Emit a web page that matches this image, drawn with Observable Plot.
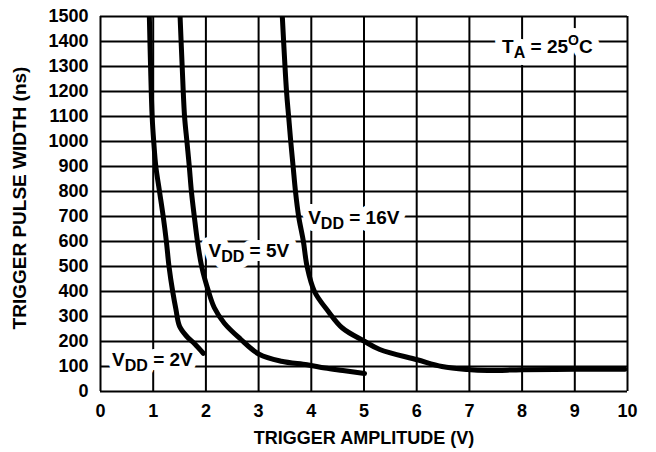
<!DOCTYPE html>
<html>
<head>
<meta charset="utf-8">
<script src="https://cdn.jsdelivr.net/npm/d3@7"></script>
<script src="https://cdn.jsdelivr.net/npm/@observablehq/plot@0.6"></script>
<style>
  html, body { margin: 0; padding: 0; background: #fff; }
  #chart svg { display: block; }
</style>
</head>
<body>
<div id="chart"></div>
<script>
// ---- Data ----
const xTicks = [0, 1, 2, 3, 4, 5, 6, 7, 8, 9, 10];
const yTicks = [0, 100, 200, 300, 400, 500, 600, 700, 800, 900, 1000, 1100, 1200, 1300, 1400, 1500];

const xTitle = "TRIGGER AMPLITUDE (V)";
const yTitle = "TRIGGER PULSE WIDTH (ns)";

// VDD = 2V
const vdd2X = [0.927, 0.95, 0.98, 1.01, 1.05, 1.12, 1.19, 1.25, 1.30, 1.37, 1.43, 1.50, 1.63, 1.79, 1.95];
const vdd2Y = [1500, 1300, 1100, 1000, 900, 800, 700, 600, 500, 400, 330, 261, 222, 190, 153];
// VDD = 5V
const vdd5X = [1.51, 1.55, 1.595, 1.64, 1.685, 1.725, 1.78, 1.84, 1.92, 2.05, 2.16, 2.35, 2.65, 3.01, 3.43, 3.92, 4.26, 4.6, 5.01];
const vdd5Y = [1500, 1300, 1100, 1000, 900, 800, 700, 600, 500, 400, 335, 273, 211, 149, 121, 107, 94, 84, 72];
// VDD = 16V
const vdd16X = [3.45, 3.53, 3.57, 3.61, 3.655, 3.70, 3.76, 3.85, 3.92, 4.06, 4.32, 4.59, 4.99, 5.30, 6.01, 6.48, 6.96, 7.35, 8, 9, 9.95];
const vdd16Y = [1500, 1200, 1100, 1000, 900, 800, 700, 600, 500, 400, 321, 254, 203, 168, 127, 100, 88, 84, 87, 89, 89];

// Labels: [text, role] parts ("" normal, "sub" subscript, "sup" superscript)
const labelParts = [
  [["V", ""], ["DD", "sub"], [" = 2V", ""]],
  [["V", ""], ["DD", "sub"], [" = 5V", ""]],
  [["V", ""], ["DD", "sub"], [" = 16V", ""]],
  [["T", ""], ["A", "sub"], [" = 25", ""], ["O", "sup"], ["C", ""]]
];
const labelX = [0.22, 2.05, 3.94, 7.62];
const labelY = [125, 563, 696, 1379];

// ---- Build tables ----
const curves = [
  ...vdd2X.map((x, i) => ({x, y: vdd2Y[i], series: "2V"})),
  ...vdd5X.map((x, i) => ({x, y: vdd5Y[i], series: "5V"})),
  ...vdd16X.map((x, i) => ({x, y: vdd16Y[i], series: "16V"}))
];
const labels = labelParts.map((parts, i) => ({
  x: labelX[i], y: labelY[i], text: parts.map(p => p[0]).join(""), parts
}));

const FONT = "'Liberation Sans', Arial, Helvetica, sans-serif";

const chart = Plot.plot({
  width: 656,
  height: 452,
  marginLeft: 100,
  marginRight: 29,
  marginTop: 16,
  marginBottom: 61,
  x: {domain: [0, 10], axis: null},
  y: {domain: [0, 1500], axis: null},
  style: {fontFamily: FONT, fontWeight: "bold", background: "white", color: "black", overflow: "visible"},
  marks: [
    Plot.gridX(xTicks, {stroke: "black", strokeOpacity: 1, strokeWidth: 2}),
    Plot.gridY(yTicks, {stroke: "black", strokeOpacity: 1, strokeWidth: 2}),
    Plot.axisX(xTicks, {tickSize: 0, tickPadding: 13, fontSize: 18, fontWeight: "bold", label: null, tickFormat: d => String(d)}),
    Plot.axisY(yTicks, {tickSize: 0, tickPadding: 12, fontSize: 18, fontWeight: "bold", label: null, tickFormat: d => String(d)}),
    Plot.text(labels, {
      x: "x", y: "y", text: "text", textAnchor: "start", lineAnchor: "middle",
      fontSize: 19, fontWeight: "bold", fill: "black"
    }),
    Plot.line(curves, {
      x: "x", y: "y", z: "series", stroke: "black", strokeWidth: 5,
      curve: "catmull-rom", clip: true
    }),
    Plot.text([xTitle], {text: d => d, frameAnchor: "bottom", textAnchor: "middle", lineAnchor: "middle", dy: 47, fontSize: 18, fontWeight: "bold", fill: "black"}),
    Plot.text([yTitle], {text: d => d, frameAnchor: "left", textAnchor: "middle", lineAnchor: "middle", rotate: -90, dx: -81, dy: -6, fontSize: 19, fontWeight: "bold", fill: "black"})
  ]
});

// Rich text (subscripts / superscripts) for the annotation labels, with a white backing halo
const byText = new Map(labels.map(d => [d.text, d.parts]));
const SVGNS = "http://www.w3.org/2000/svg";
chart.querySelectorAll("text").forEach(t => {
  const parts = byText.get(t.textContent);
  if (!parts) return;
  while (t.firstChild) t.removeChild(t.firstChild);
  let shift = 0;
  parts.forEach(([str, role]) => {
    const ts = document.createElementNS(SVGNS, "tspan");
    let target = 0;
    if (role === "sub") { ts.setAttribute("font-size", "16"); target = 5; }
    else if (role === "sup") { ts.setAttribute("font-size", "14"); target = -8; }
    const d = target - shift;
    if (d !== 0) ts.setAttribute("dy", d);
    shift = target;
    ts.textContent = str;
    t.appendChild(ts);
  });
  const halo = t.cloneNode(true);
  halo.setAttribute("fill", "white");
  halo.setAttribute("stroke", "white");
  halo.setAttribute("stroke-width", "14");
  halo.setAttribute("stroke-linejoin", "round");
  t.parentNode.insertBefore(halo, t);
});

document.getElementById("chart").appendChild(chart);
</script>
</body>
</html>
